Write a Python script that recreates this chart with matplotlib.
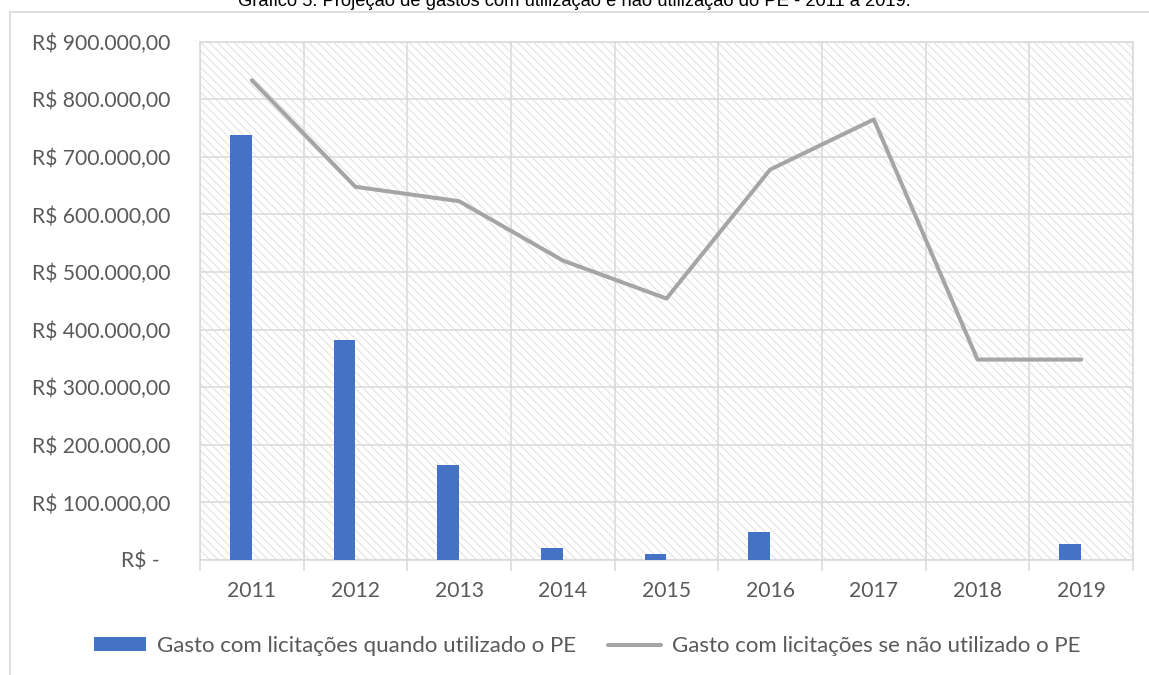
import numpy as np
import matplotlib
matplotlib.use('Agg')
import matplotlib.pyplot as plt
from matplotlib.patches import Rectangle

years = ['2011', '2012', '2013', '2014', '2015', '2016', '2017', '2018', '2019']
gasto_com_pe = [738000, 382000, 165000, 20000, 10000, 49000, 0, 0, 27000]
gasto_sem_pe = [833000, 648000, 623000, 520000, 454000, 678000, 765000, 348000, 348000]
y_ticks = [0, 100000, 200000, 300000, 400000, 500000, 600000, 700000, 800000, 900000]

title = 'Gráfico 5: Projeção de gastos com utilização e não utilização do PE - 2011 a 2019.'
label_bar = 'Gasto com licitações quando utilizado o PE'
label_line = 'Gasto com licitações se não utilizado o PE'

grey = '#d9d9d9'
txt = '#595959'


def fmt_brl(v):
    if v == 0:
        return 'R$ -  '
    s = f'{v:,.2f}'.replace(',', 'X').replace('.', ',').replace('X', '.')
    return 'R$ ' + s


plt.rcParams['hatch.linewidth'] = 0.8
fig = plt.figure(figsize=(11.49, 6.75), dpi=100)
W, H = 1149, 675

# chart frame (cut off at right/bottom)
fig.patches.append(Rectangle((10 / W, -0.1), 1.2, 1 - 12 / H + 0.1, transform=fig.transFigure,
                             fill=False, edgecolor=grey, linewidth=1.2))
fig.text(0.5, 1 - 6.5 / H, title, ha='center', va='baseline', fontsize=13.2,
         family='Liberation Sans', color='black')

ax = fig.add_axes([200 / W, 1 - 560 / H, (1133 - 200) / W, (560 - 41.7) / H])
ax.patch.set_facecolor('white')
ax.patch.set_edgecolor('#e2e2e2')
ax.patch.set_hatch('\\\\\\\\')
ax.patch.set_linewidth(0)

x = np.arange(len(years))
bw = 0.212
bars = ax.bar(x - bw, gasto_com_pe, width=bw, align='edge', color='#4472C4', zorder=3)
line, = ax.plot(x, gasto_sem_pe, color='#a5a5a5', lw=2.9, zorder=4, solid_capstyle='round',
                solid_joinstyle='round')

ax.set_xlim(-0.5, len(years) - 0.5)
ax.set_ylim(0, 900000)
ax.set_yticks(y_ticks)
ax.set_yticklabels([fmt_brl(v) for v in y_ticks])
ax.set_xticks(x)
ax.set_xticklabels(years)
ax.set_xticks(np.arange(-0.5, len(years)), minor=True)

ax.grid(axis='y', which='major', color=grey, lw=1.1, zorder=1)
ax.grid(axis='x', which='minor', color=grey, lw=1.1, zorder=1)
ax.tick_params(axis='y', length=0, pad=21, labelsize=15.2, labelcolor=txt)
ax.tick_params(axis='x', which='major', length=0, pad=15, labelsize=15.2, labelcolor=txt)
ax.tick_params(axis='x', which='minor', length=8, width=1.1, color=grey)
for lab in ax.get_xticklabels() + ax.get_yticklabels():
    lab.set_family('Lato')
for s in ax.spines.values():
    s.set_color(grey)
    s.set_linewidth(1.1)
ax.set_axisbelow(True)

fig.legend([bars, line], [label_bar, label_line], loc='center',
           bbox_to_anchor=(587 / W, 1 - 646 / H), ncol=2, frameon=False,
           prop={'family': 'Lato', 'size': 16}, labelcolor=txt, handlelength=2.35,
           handletextpad=0.5, columnspacing=1.45, handleheight=0.55)

fig.savefig('out.png', dpi=100)
